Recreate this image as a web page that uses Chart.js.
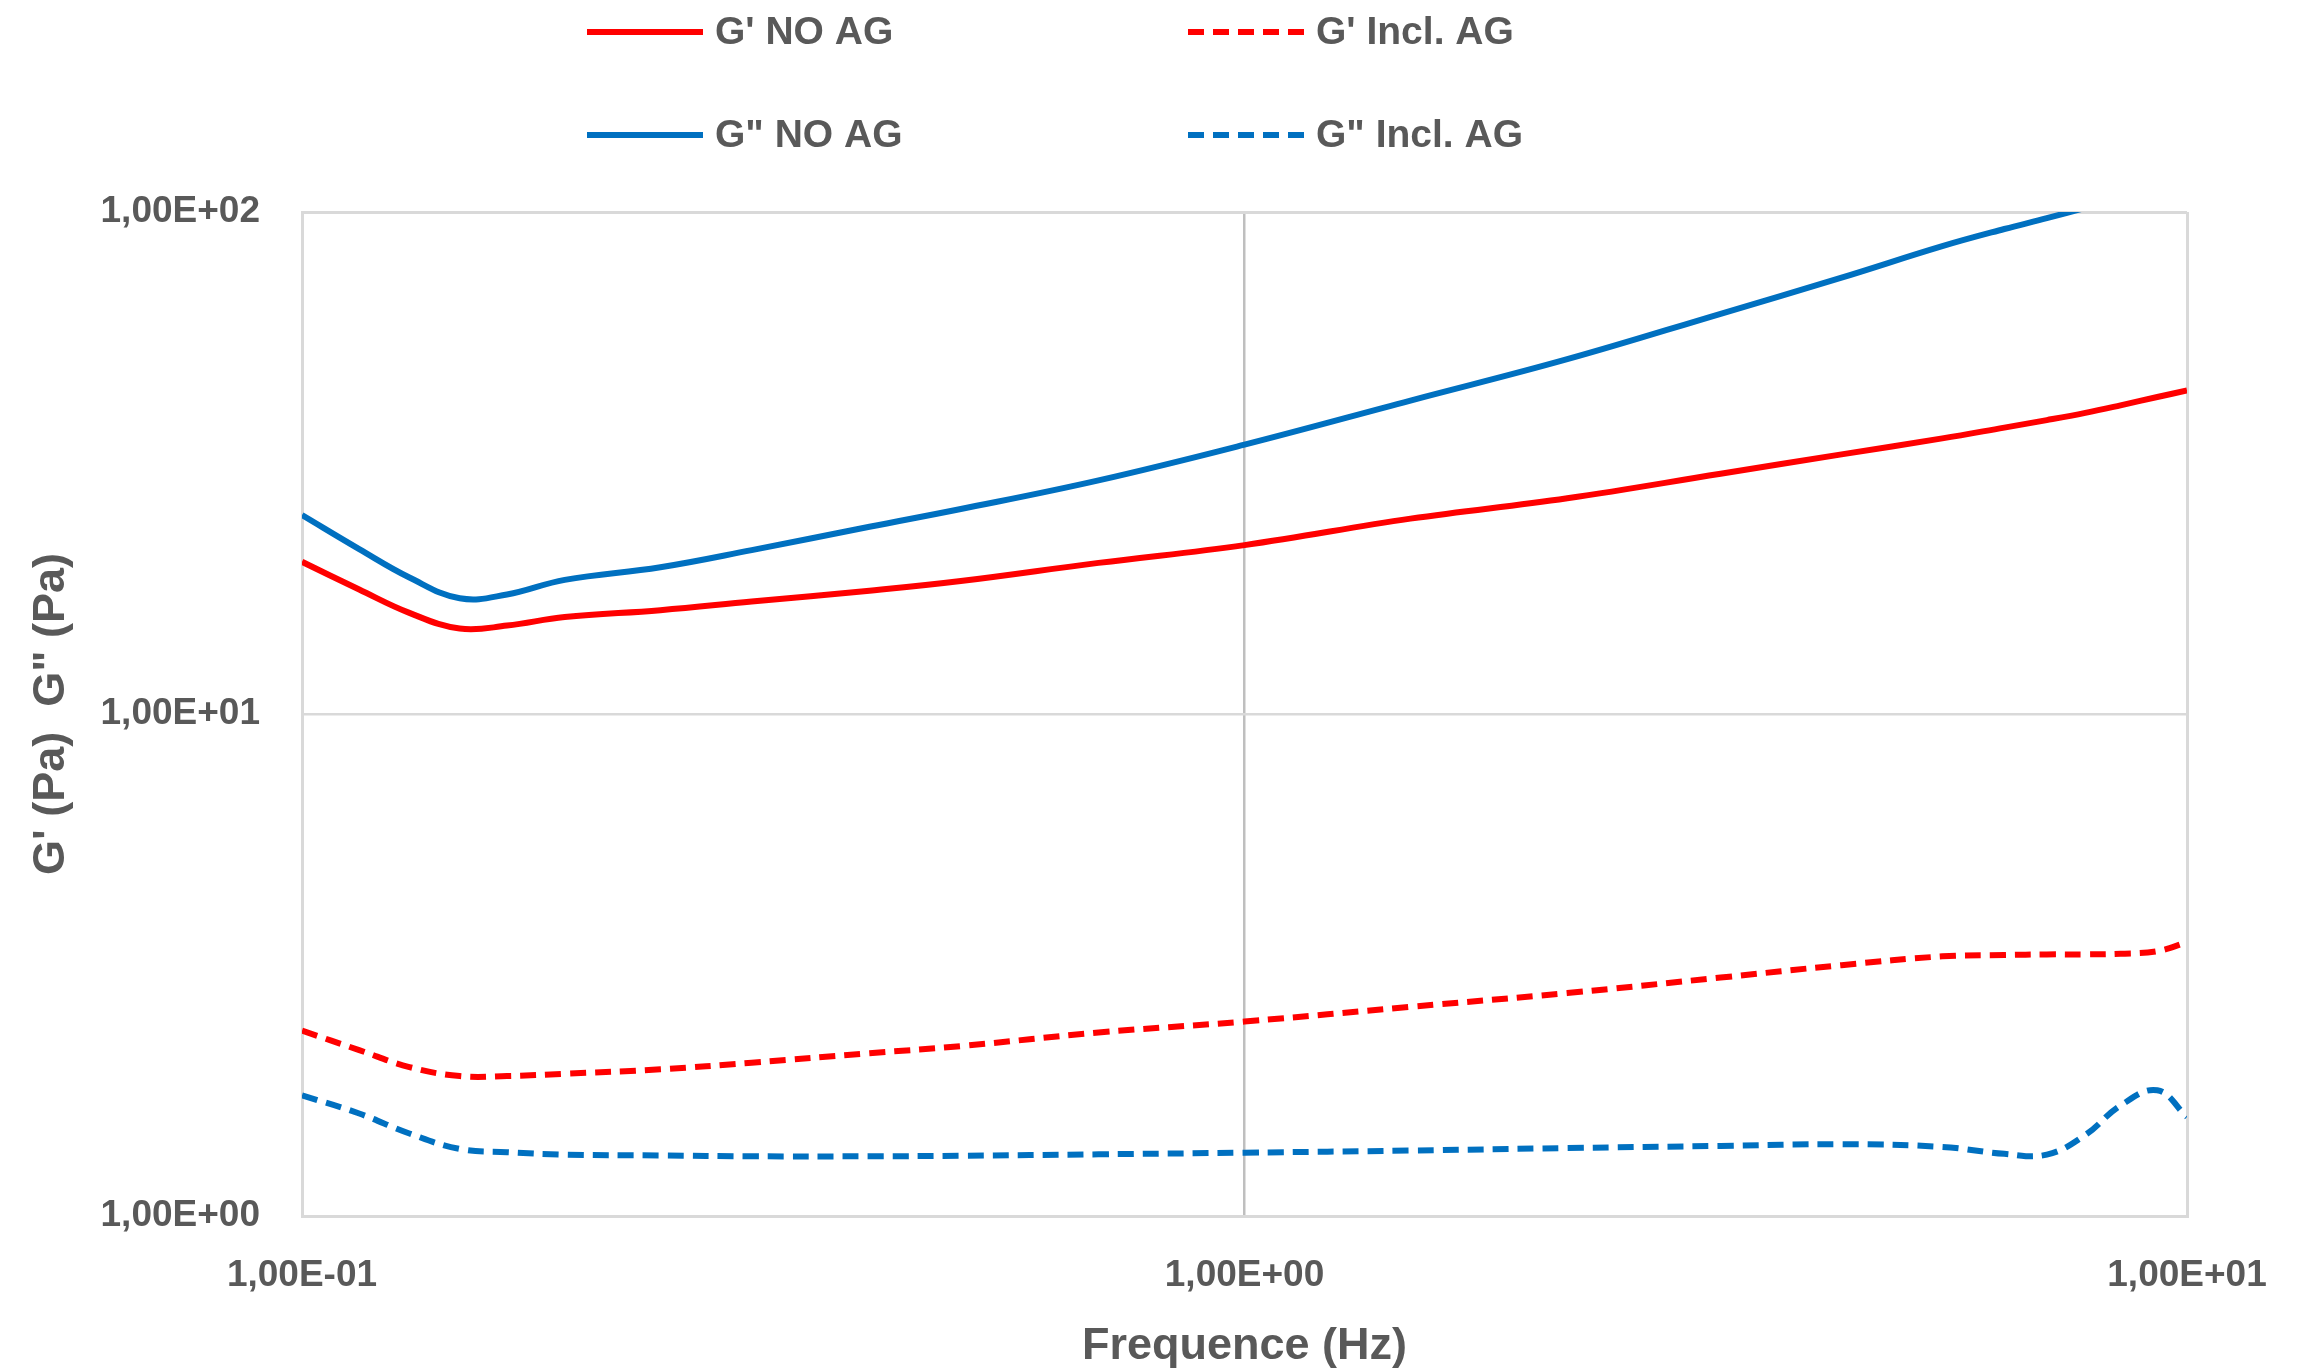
<!DOCTYPE html>
<html>
<head>
<meta charset="utf-8">
<script src="https://cdn.jsdelivr.net/npm/chart.js@4/dist/chart.umd.min.js"></script>
<style>
  html, body { margin: 0; padding: 0; background: #ffffff; }
  #wrap { width: 2306px; height: 1372px; position: relative; }
  canvas { display: block; }
</style>
</head>
<body>
<div id="wrap"><canvas id="rheo" width="2306" height="1372"></canvas></div>
<script>
// Oscillatory frequency sweep: storage (G') and loss (G") moduli, with and without AG
const freqHz = [0.1, 0.115, 0.13, 0.147, 0.165, 0.19, 0.24, 0.3, 0.4, 0.5, 0.7, 1, 1.5, 2.2, 3.2, 4.3, 5.5, 6.4, 7.1, 7.8, 8.5, 9.3, 10];

const gPrimeNoAG   = [20.1, 17.7, 15.9, 14.8, 15.0, 15.6, 16.1, 16.75, 17.6, 18.4, 20.0, 21.7, 24.5, 26.9, 30.1, 32.9, 35.4, 37.2, 38.5, 39.8, 41.2, 42.8, 44.1];
const gSecondNoAG  = [24.9, 21.3, 18.7, 17.0, 17.3, 18.5, 19.6, 21.2, 23.6, 25.6, 29.2, 34.4, 42.1, 50.9, 62.7, 74.0, 85.5, 92.5, 97.2, 101.9, 106.4, 111.5, 116];
const gPrimeInclAG = [2.34, 2.14, 1.98, 1.90, 1.90, 1.92, 1.96, 2.02, 2.11, 2.18, 2.32, 2.44, 2.61, 2.78, 2.985, 3.16, 3.29, 3.31, 3.32, 3.32, 3.33, 3.37, 3.51];
const gSecondInclAG = [1.74, 1.60, 1.46, 1.36, 1.34, 1.325, 1.32, 1.315, 1.315, 1.318, 1.327, 1.337, 1.35, 1.366, 1.379, 1.39, 1.373, 1.33, 1.325, 1.45, 1.66, 1.78, 1.575];

const seriesLabels = ["G' NO AG", "G' Incl. AG", 'G" NO AG', 'G" Incl. AG'];

const xTickValues = [0.1, 1, 10];
const xTickLabels = ['1,00E-01', '1,00E+00', '1,00E+01'];
const yTickValues = [1, 10, 100];
const yTickLabels = ['1,00E+00', '1,00E+01', '1,00E+02'];

const xTitle = 'Frequence (Hz)';
const yTitle = 'G\' (Pa)  G" (Pa)';

const RED = '#FF0000';
const BLUE = '#0070C0';
const TEXT = '#595959';
const FONT = "'Liberation Sans', Arial, sans-serif";
const DASH = [16, 9];
const LINE_W = 6;

const toPoints = (vals) => freqHz.map((f, i) => ({ x: f, y: vals[i] }));

function lineSet(label, vals, color, dashed) {
  return {
    label,
    data: toPoints(vals),
    borderColor: color,
    backgroundColor: color,
    borderWidth: LINE_W,
    borderDash: dashed ? DASH : [],
    borderCapStyle: 'butt',
    borderJoinStyle: 'round',
    pointRadius: 0,
    showLine: true,
    fill: false,
    tension: 0.4
  };
}

// Two-column legend laid out above the plot
const gridLegend = {
  id: 'gridLegend',
  afterDraw(chart) {
    const ctx = chart.ctx;
    const cols = [587, 1188];
    const rows = [32, 135];
    const sampleLen = 116;
    const gap = 12;
    chart.data.datasets.forEach((ds, i) => {
      const col = i % 2, row = Math.floor(i / 2);
      const x = cols[col], y = rows[row];
      ctx.save();
      ctx.strokeStyle = ds.borderColor;
      ctx.lineWidth = LINE_W;
      ctx.lineCap = 'butt';
      ctx.setLineDash(ds.borderDash || []);
      ctx.beginPath();
      ctx.moveTo(x, y);
      ctx.lineTo(x + sampleLen, y);
      ctx.stroke();
      ctx.setLineDash([]);
      ctx.fillStyle = TEXT;
      ctx.font = 'bold 39px ' + FONT;
      ctx.textBaseline = 'middle';
      ctx.textAlign = 'left';
      ctx.fillText(ds.label, x + sampleLen + gap, y + 1);
      ctx.restore();
    });
  }
};

const datasets = [
  lineSet(seriesLabels[0], gPrimeNoAG, RED, false),
  lineSet(seriesLabels[1], gPrimeInclAG, RED, true),
  lineSet(seriesLabels[2], gSecondNoAG, BLUE, false),
  lineSet(seriesLabels[3], gSecondInclAG, BLUE, true)
];

new Chart(document.getElementById('rheo'), {
  type: 'scatter',
  data: { datasets },
  options: {
    responsive: false,
    devicePixelRatio: 1,
    animation: false,
    layout: { padding: { top: 212, right: 119, bottom: 0, left: 0 } },
    plugins: {
      legend: { display: false },
      tooltip: { enabled: false }
    },
    scales: {
      x: {
        type: 'logarithmic',
        position: 'bottom',
        min: 0.1,
        max: 10,
        afterBuildTicks(scale) { scale.ticks = xTickValues.map(v => ({ value: v })); },
        afterFit(scale) { scale.height = 156; },
        ticks: {
          autoSkip: false,
          maxRotation: 0,
          padding: 38,
          color: TEXT,
          font: { family: FONT, size: 37, weight: 'bold' },
          callback: (v) => { const i = xTickValues.indexOf(v); return i >= 0 ? xTickLabels[i] : ''; }
        },
        grid: {
          drawTicks: false,
          color: (c) => c.index === 1 ? '#BFBFBF' : '#D9D9D9',
          lineWidth: (c) => c.index === 1 ? 2.5 : 3
        },
        border: { display: true, color: '#D9D9D9', width: 3 },
        title: {
          display: true,
          text: xTitle,
          color: TEXT,
          font: { family: FONT, size: 45, weight: 'bold', lineHeight: 1 },
          padding: { top: 0, bottom: 3 }
        }
      },
      y: {
        type: 'logarithmic',
        position: 'left',
        min: 1,
        max: 100,
        afterBuildTicks(scale) { scale.ticks = yTickValues.map(v => ({ value: v })); },
        afterFit(scale) { scale.width = 302; },
        ticks: {
          autoSkip: false,
          padding: 42,
          color: TEXT,
          font: { family: FONT, size: 37, weight: 'bold' },
          callback: (v) => { const i = yTickValues.indexOf(v); return i >= 0 ? yTickLabels[i] : ''; }
        },
        grid: {
          drawTicks: false,
          color: (c) => c.index === 0 ? '#C8C8C8' : '#D9D9D9',
          lineWidth: (c) => c.index === 1 ? 2.5 : 3
        },
        border: { display: true, color: '#D9D9D9', width: 3 },
        title: {
          display: true,
          text: yTitle,
          color: TEXT,
          font: { family: FONT, size: 45, weight: 'bold', lineHeight: 1 },
          padding: { top: 29, bottom: 0 }
        }
      }
    }
  },
  plugins: [gridLegend]
});
</script>
</body>
</html>
